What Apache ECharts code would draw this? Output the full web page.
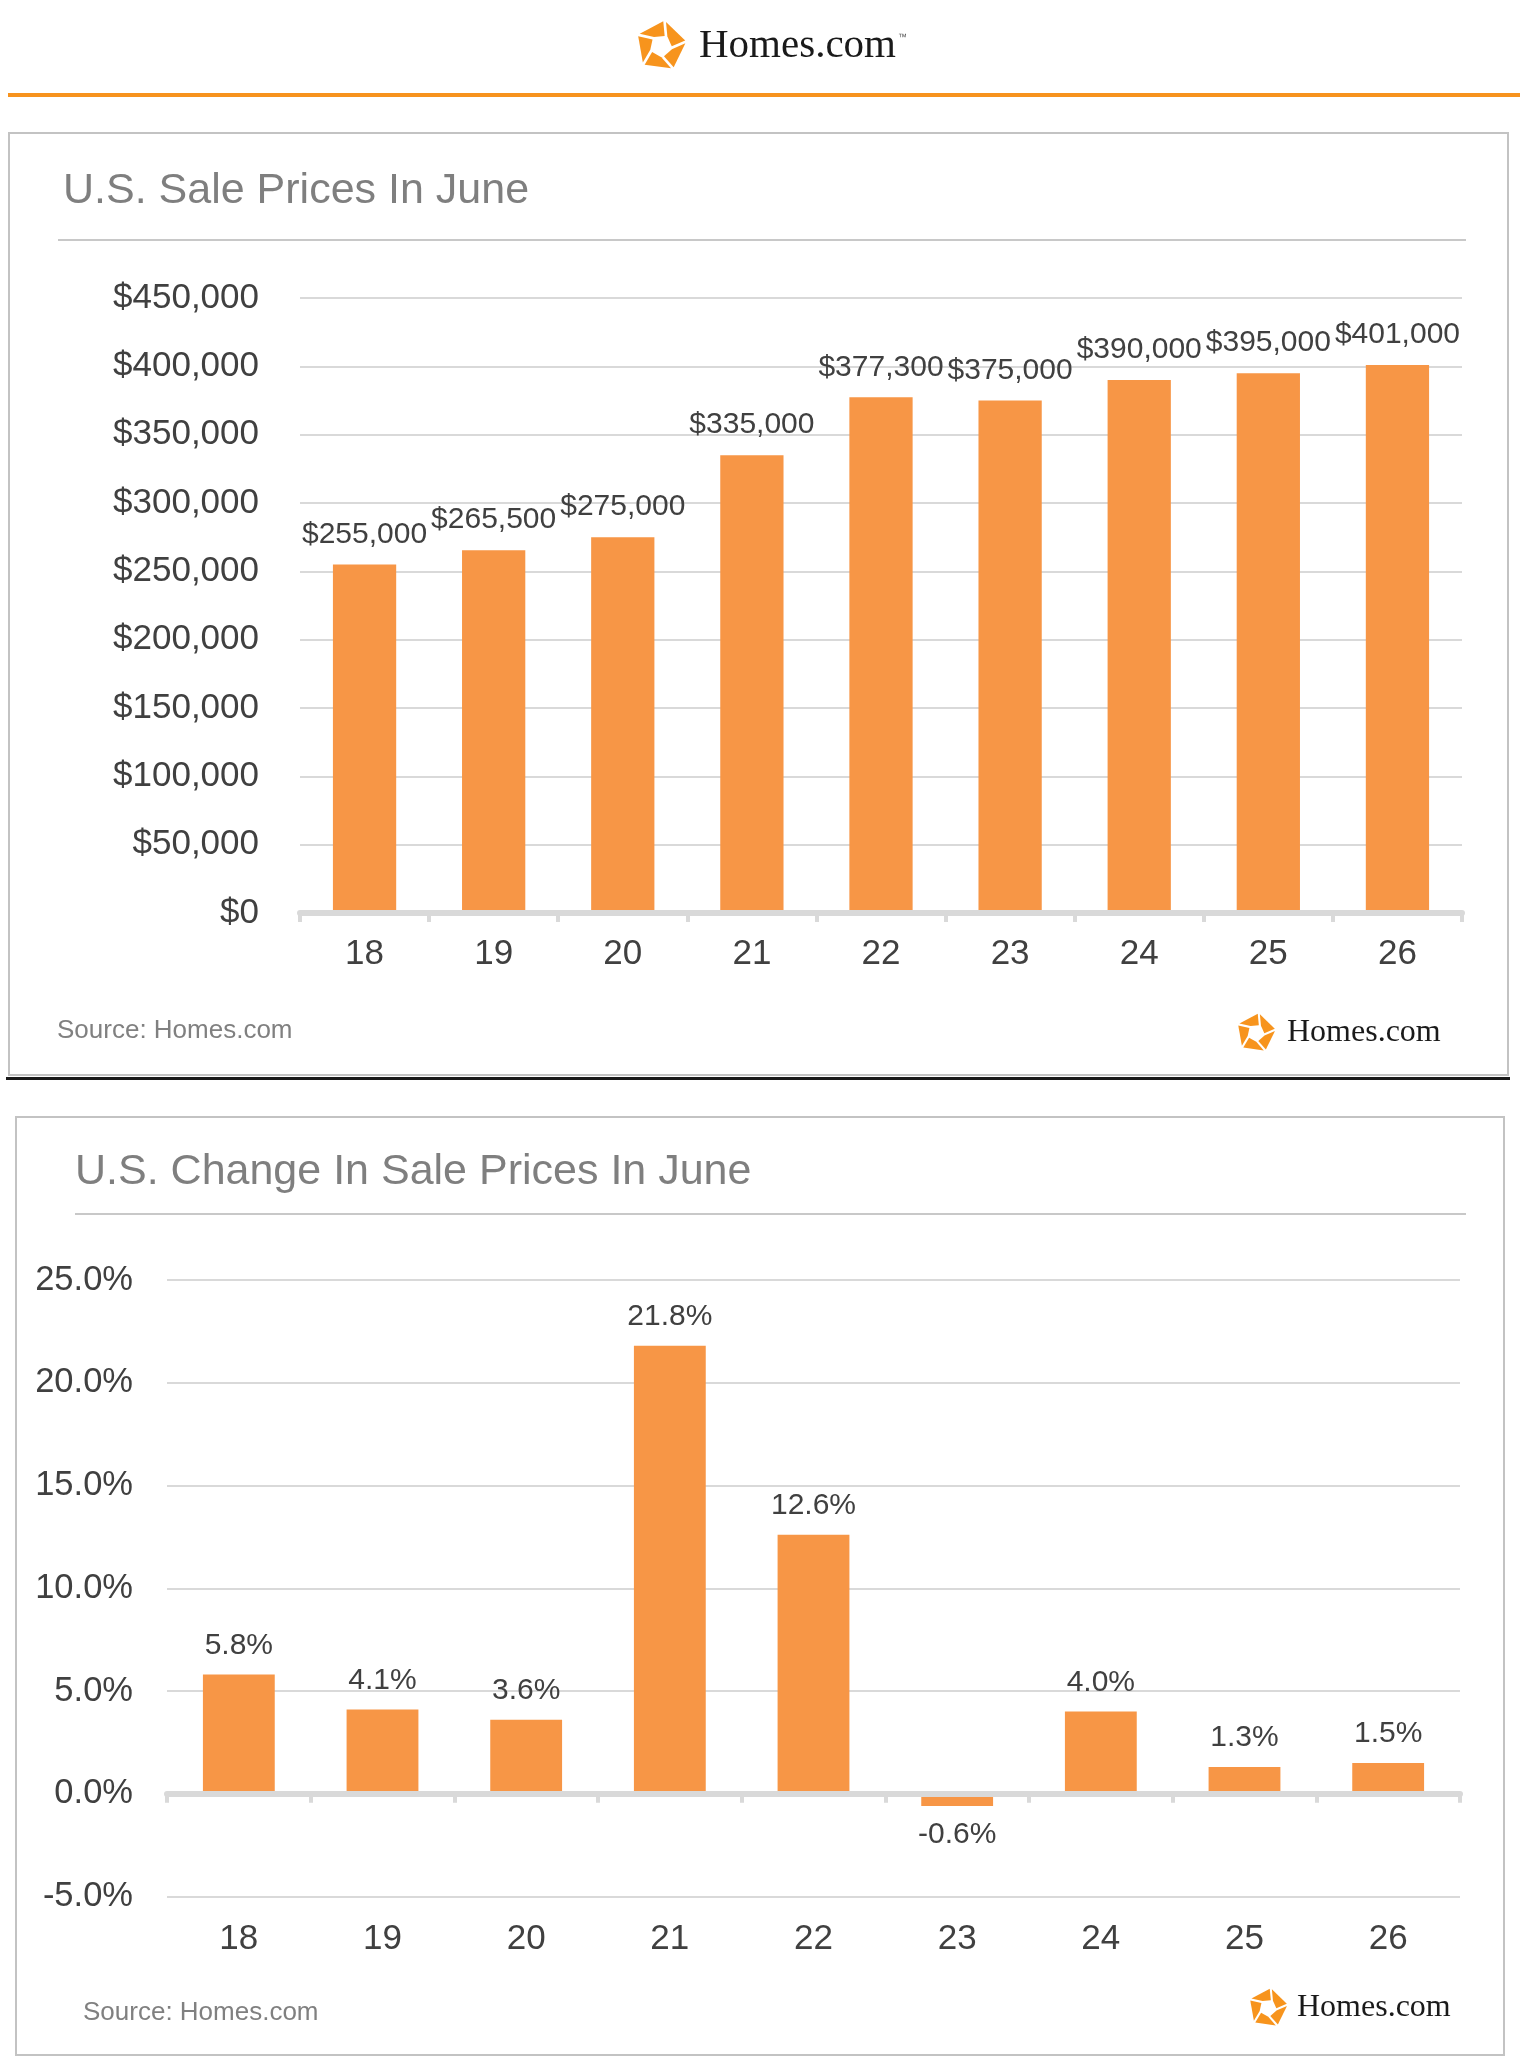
<!DOCTYPE html>
<html>
<head>
<meta charset="utf-8">
<script src="https://cdn.jsdelivr.net/npm/echarts@6/dist/echarts.min.js"></script>
<style>
html,body{margin:0;padding:0;background:#fff;}
#c{width:1520px;height:2065px;}
</style>
</head>
<body>
<div id="c"></div>
<script>
// ---- data ----
const years = ['18', '19', '20', '21', '22', '23', '24', '25', '26'];
const prices = [255000, 265500, 275000, 335000, 377300, 375000, 390000, 395000, 401000];
const changes = [5.8, 4.1, 3.6, 21.8, 12.6, -0.6, 4.0, 1.3, 1.5];
const priceTicks = { min: 0, max: 450000, step: 50000 };
const changeTicks = { min: -5, max: 25, step: 5 };
const titleTop = 'U.S. Sale Prices In June';
const titleBottom = 'U.S. Change In Sale Prices In June';
const sourceText = 'Source: Homes.com';
const brand = 'Homes.com';

// ---- helpers ----
const FONT = '"Liberation Sans", Arial, sans-serif';
const SERIF = '"Liberation Serif", "Times New Roman", serif';
const ORANGE = '#f79646';
const TXT = '#404040';
function money(v) { return '$' + String(v).replace(/\B(?=(\d{3})+(?!\d))/g, ','); }
function pct(v) { return Number(v).toFixed(1) + '%'; }

function logo(cx, cy, R, textX, fontSize, tm) {
  const els = [];
  const O = [], I = [];
  for (let i = 0; i < 5; i++) {
    const a = (-90 + 72 * i + 8) * Math.PI / 180;
    O.push([cx + R * Math.cos(a), cy + R * Math.sin(a)]);
    const b = (-90 + 72 * i + 8 + 22) * Math.PI / 180;
    I.push([cx + 0.4 * R * Math.cos(b), cy + 0.4 * R * Math.sin(b)]);
  }
  for (let i = 0; i < 5; i++) {
    const j = (i + 1) % 5;
    const pts = [O[i], O[j], I[j], I[i]];
    const gx = pts.reduce((s, p) => s + p[0], 0) / 4;
    const gy = pts.reduce((s, p) => s + p[1], 0) / 4;
    const sp = pts.map(p => [gx + (p[0] - gx) * 0.84, gy + (p[1] - gy) * 0.84]);
    els.push({ type: 'polygon', shape: { points: sp }, style: { fill: '#f7941d' }, silent: true });
  }
  els.push({ type: 'text', x: textX, y: cy, style: { text: brand, font: fontSize + 'px ' + SERIF, fill: '#1a1a1a', textVerticalAlign: 'middle', textAlign: 'left' }, silent: true });
  if (tm) {
    els.push({ type: 'text', x: tm[0], y: tm[1], style: { text: '\u2122', font: '9px ' + FONT, fill: '#555', textVerticalAlign: 'middle' }, silent: true });
  }
  return els;
}

const graphics = [].concat(
  [{ type: 'rect', shape: { x: 8, y: 93, width: 1512, height: 4 }, style: { fill: '#f7931e' }, silent: true }],
  logo(661, 46, 27, 699, 41, [898, 38]),
  [
    { type: 'rect', shape: { x: 9, y: 133, width: 1499, height: 942 }, style: { fill: 'none', stroke: '#c3c3c3', lineWidth: 2 }, silent: true },
    { type: 'rect', shape: { x: 6, y: 1077, width: 1504, height: 3 }, style: { fill: '#1a1a1a' }, silent: true },
    { type: 'text', x: 63, y: 191, style: { text: titleTop, font: '43px ' + FONT, fill: '#7f7f7f', textVerticalAlign: 'middle' }, silent: true },
    { type: 'line', shape: { x1: 58, y1: 240, x2: 1466, y2: 240 }, style: { stroke: '#c8c8c8', lineWidth: 2 }, silent: true },
    { type: 'text', x: 57, y: 1031, style: { text: sourceText, font: '26px ' + FONT, fill: '#808080', textVerticalAlign: 'middle' }, silent: true }
  ],
  logo(1256, 1033, 21, 1287, 32),
  [
    { type: 'rect', shape: { x: 16, y: 1117, width: 1488, height: 938 }, style: { fill: 'none', stroke: '#c3c3c3', lineWidth: 2 }, silent: true },
    { type: 'text', x: 75, y: 1172, style: { text: titleBottom, font: '43px ' + FONT, fill: '#7f7f7f', textVerticalAlign: 'middle' }, silent: true },
    { type: 'line', shape: { x1: 75, y1: 1214, x2: 1466, y2: 1214 }, style: { stroke: '#c8c8c8', lineWidth: 2 }, silent: true },
    { type: 'text', x: 83, y: 2013, style: { text: sourceText, font: '26px ' + FONT, fill: '#808080', textVerticalAlign: 'middle' }, silent: true }
  ],
  logo(1268, 2008, 21, 1297, 32)
);

const axisLineStyle = { color: '#d9d9d9', width: 6 };
const tickStyle = { show: true, length: 9, lineStyle: { color: '#d9d9d9', width: 4 } };

const option = {
  animation: false,
  textStyle: { fontFamily: FONT },
  grid: [
    { left: 300, right: 58, top: 298, height: 615 },
    { left: 167, right: 60, top: 1280, height: 616.5 }
  ],
  xAxis: [
    { gridIndex: 0, type: 'category', data: years, z: 5,
      axisLine: { lineStyle: axisLineStyle }, axisTick: tickStyle,
      axisLabel: { fontSize: 35, color: TXT, margin: 24, fontFamily: FONT } },
    { gridIndex: 1, type: 'category', data: years, position: 'bottom', z: 5,
      axisLine: { onZero: true, lineStyle: axisLineStyle }, axisTick: tickStyle,
      axisLabel: { show: false } },
    { gridIndex: 1, type: 'category', data: years, position: 'bottom',
      axisLine: { show: false, onZero: false }, axisTick: { show: false },
      axisLabel: { fontSize: 35, color: TXT, margin: 25, fontFamily: FONT } }
  ],
  yAxis: [
    { gridIndex: 0, type: 'value', min: priceTicks.min, max: priceTicks.max, interval: priceTicks.step,
      axisLine: { show: false }, axisTick: { show: false },
      splitLine: { lineStyle: { color: '#d9d9d9', width: 2 } },
      axisLabel: { formatter: money, fontSize: 35, color: TXT, margin: 41, fontFamily: FONT } },
    { gridIndex: 1, type: 'value', min: changeTicks.min, max: changeTicks.max, interval: changeTicks.step,
      axisLine: { show: false }, axisTick: { show: false },
      splitLine: { lineStyle: { color: '#d9d9d9', width: 2 } },
      axisLabel: { formatter: pct, fontSize: 34.5, color: TXT, margin: 34, fontFamily: FONT } }
  ],
  series: [
    { type: 'bar', xAxisIndex: 0, yAxisIndex: 0, data: prices, barWidth: '49%',
      itemStyle: { color: ORANGE },
      label: { show: true, position: 'top', distance: 15, fontSize: 30, color: TXT, fontFamily: FONT,
        formatter: p => money(p.value) } },
    { type: 'bar', xAxisIndex: 1, yAxisIndex: 1, barWidth: '50%',
      data: changes.map(v => ({ value: v, label: { position: v < 0 ? 'bottom' : 'top' } })),
      itemStyle: { color: ORANGE },
      label: { show: true, distance: 14, fontSize: 30, color: TXT, fontFamily: FONT,
        formatter: p => pct(p.value) } }
  ],
  graphic: graphics
};

const chart = echarts.init(document.getElementById('c'), null, { renderer: 'canvas', width: 1520, height: 2065 });
chart.setOption(option);
</script>
</body>
</html>
